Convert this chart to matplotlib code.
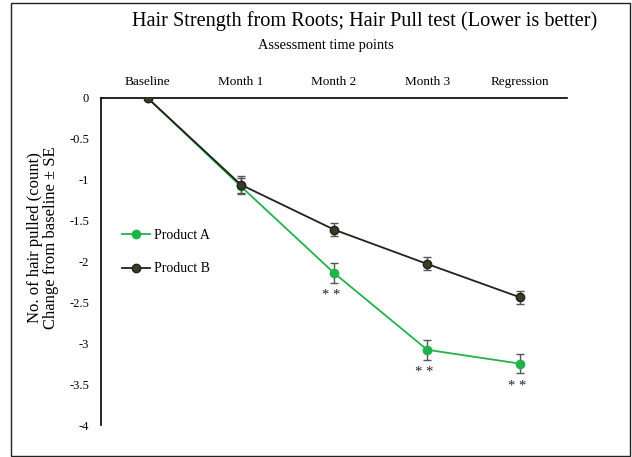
import matplotlib
matplotlib.use("Agg")
import matplotlib.pyplot as plt
from matplotlib.patches import Rectangle
from matplotlib.lines import Line2D

plt.rcParams['font.family'] = ['Liberation Serif', 'DejaVu Serif']

categories = ["Baseline", "Month 1", "Month 2", "Month 3", "Regression"]
product_a = [0, -1.08, -2.14, -3.08, -3.25]
product_a_se = [0, 0.10, 0.12, 0.12, 0.12]
product_b = [0, -1.06, -1.61, -2.03, -2.44]
product_b_se = [0, 0.10, 0.08, 0.08, 0.08]
sig_a = ["", "", "* *", "* *", "* *"]
y_ticks = [0, -0.5, -1, -1.5, -2, -2.5, -3, -3.5, -4]
y_tick_labels = ["0", "-0.5", "-1", "-1.5", "-2", "-2.5", "-3", "-3.5", "-4"]

fig = plt.figure(figsize=(6.32, 4.57), dpi=100)
W, H = 632, 457
ax = fig.add_axes([101 / W, 1 - 425 / H, (567 - 101) / W, (425 - 98) / H])

x = list(range(len(categories)))
col_a = "#22b24c"
col_b = "#222018"
face_b = "#3d3a28"
ax.errorbar(x, product_a, yerr=product_a_se, color=col_a, marker="o", markersize=6,
            lw=1.3, ecolor="#555555", elinewidth=1, capsize=3, capthick=1, zorder=3)
ax.errorbar(x, product_b, yerr=product_b_se, color=col_b, marker="o", markersize=6,
            markerfacecolor=face_b, markeredgecolor=col_b,
            lw=1.3, ecolor="#555555", elinewidth=1, capsize=3, capthick=1, zorder=4)

for xi, yi, se, s in zip(x, product_a, product_a_se, sig_a):
    if s:
        ax.text(xi - 0.03, yi - se - 0.08, s, ha="center", va="top", fontsize=10.5,
                color="#222222")

ax.set_xlim(-0.5, 4.5)
ax.set_ylim(-4, 0)
ax.set_yticks(y_ticks)
ax.set_yticklabels(y_tick_labels, fontsize=9)
ax.xaxis.tick_top()
ax.set_xticks(x)
ax.set_xticklabels(categories, fontsize=9.5)
ax.tick_params(axis="both", length=0)
ax.tick_params(axis="x", pad=7)
ax.tick_params(axis="y", pad=8.5)
ax.spines["right"].set_visible(False)
ax.spines["bottom"].set_visible(False)
ax.spines["top"].set_linewidth(1.2)
ax.spines["left"].set_linewidth(1.2)

fig.text(43 / W, 1 - 238 / H, "No. of hair pulled (count)\nChange from baseline ± SE",
         rotation=90, ha="center", va="center", fontsize=12, linespacing=1.0)

handles = [
    Line2D([], [], color=col_a, marker="o", markersize=6, lw=1.3),
    Line2D([], [], color=col_b, marker="o", markersize=6, lw=1.3,
           markerfacecolor=face_b, markeredgecolor=col_b),
]
ax.legend(handles, ["Product A", "Product B"], loc="upper left",
          bbox_to_anchor=(21 / 466, 1 - (234 - 98 - 5) / 327), frameon=False,
          fontsize=10, handlelength=2.0, handletextpad=0.3, labelspacing=1.47,
          borderaxespad=0, borderpad=0)

fig.text(365 / W, 1 - 21 / H, "Hair Strength from Roots; Hair Pull test (Lower is better)",
         ha="center", va="center", fontsize=14.6)
fig.text(326 / W, 1 - 45 / H, "Assessment time points", ha="center", va="center", fontsize=10.4)

fig.patches.append(Rectangle((11 / W, 1 - 456 / H), (630 - 11) / W, (456 - 3) / H,
                             transform=fig.transFigure, fill=False, edgecolor="#222222",
                             lw=1.0))

fig.savefig("out.png", dpi=100)
